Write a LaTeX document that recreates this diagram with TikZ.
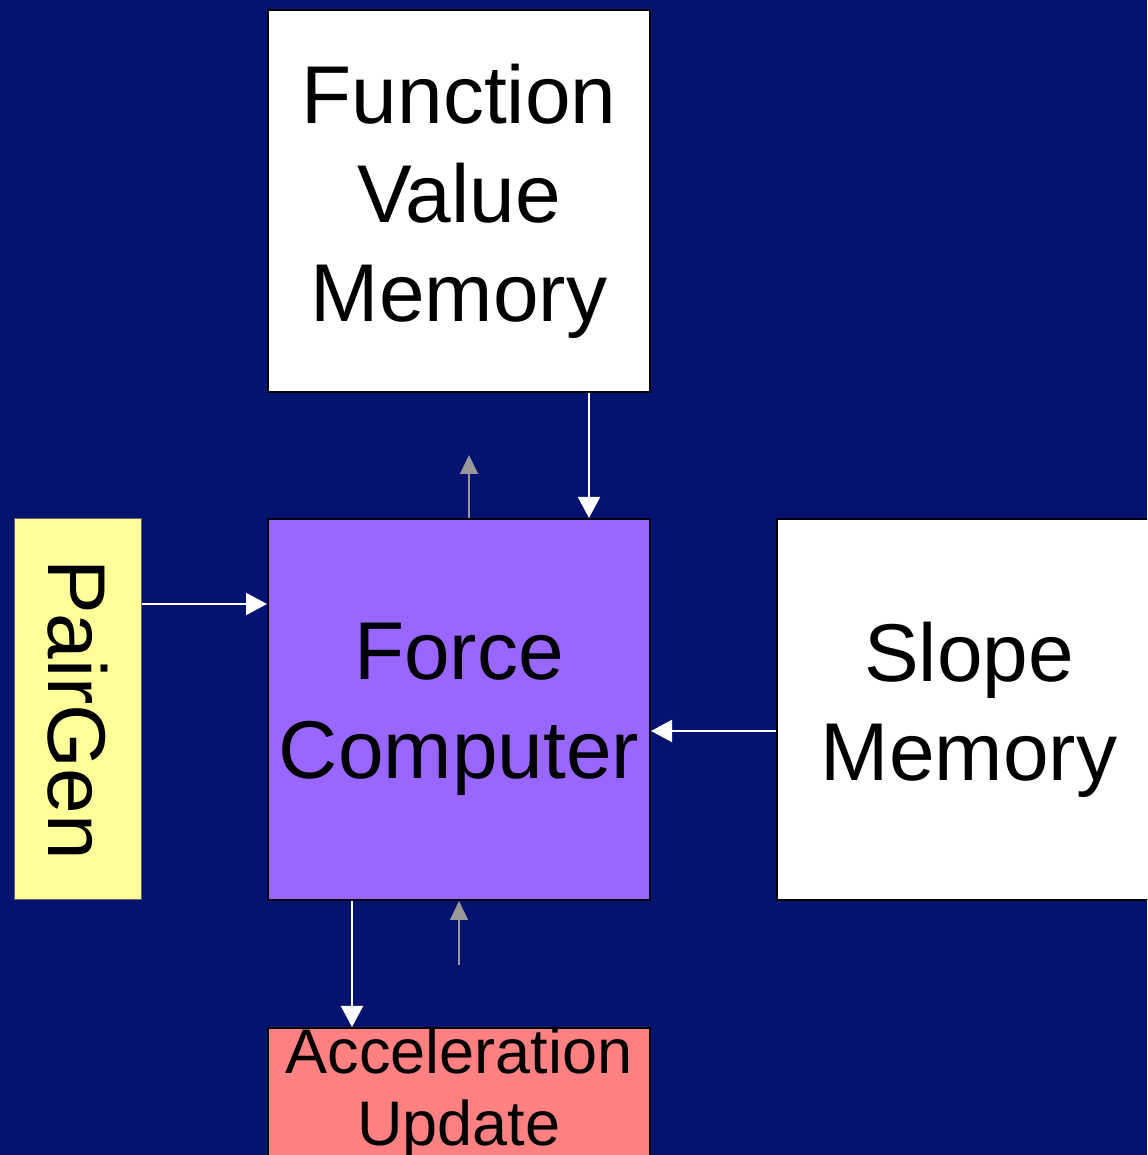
\documentclass[tikz,border=0pt]{standalone}
\usepackage{fontspec}
\setmainfont{Liberation Sans}
\usetikzlibrary{arrows.meta}
\definecolor{slidenavy}{RGB}{4,18,112}
\definecolor{pairyellow}{RGB}{255,255,153}
\definecolor{forcepurple}{RGB}{153,102,255}
\definecolor{accelpink}{RGB}{255,128,128}
\definecolor{ctrlgray}{RGB}{153,153,153}
\tikzset{
	unit/.style={draw=black,line width=1pt,inner sep=0pt,align=center,font=\fontsize{41}{49.5}\selectfont},
	dataflow/.style={white,line width=1pt,-{Triangle[length=10.5pt,width=11pt]}},
	control/.style={ctrlgray,line width=0.6pt,-{Triangle[length=9.5pt,width=9pt]}}
}
\begin{document}
\begin{tikzpicture}[x=0.5pt,y=0.5pt]
			\useasboundingbox (0,0) rectangle (1147,1155);
			\clip (0,0) rectangle (1147,1155);
			\fill[slidenavy] (0,0) rectangle (1147,1155);
			% the four blocks around the force pipeline
			\node[unit,fill=white,minimum width=191pt,minimum height=191pt] (fvm) at (459,954) {Function\\Value\\Memory};
			\node[unit,fill=forcepurple,minimum width=191pt,minimum height=190.5pt] (force) at (459,445.5) {Force\\Computer};
			\node[unit,fill=pairyellow,draw=black!60,line width=0.5pt,minimum width=63.5pt,minimum height=190.5pt] (pairgen) at (77.5,445.5) {\rotatebox{-90}{PairGen}};
			\node[unit,fill=white,minimum width=192pt,minimum height=190.5pt] (slope) at (969,445.5) {Slope\\Memory};
			\node[unit,fill=accelpink,anchor=north,minimum width=191pt,font=\fontsize{31.5}{36}\selectfont] (accel) at (459,128) {Acceleration\\Update};
			% connections
			\coordinate (fvmreq) at (469,700);
			\coordinate (accreq) at (459,190);
			\draw[control] (force.north -| fvmreq) -- (fvmreq);
			\draw[dataflow] ([xshift=65pt]fvm.south) -- ([xshift=65pt]force.north);
			\draw[dataflow] ([yshift=52.75pt]pairgen.east) -- ([yshift=52.75pt]force.west);
			\draw[dataflow] ([yshift=-10.75pt]slope.west) -- ([yshift=-10.75pt]force.east);
			\draw[dataflow] ([xshift=-53.5pt]force.south) -- ([xshift=-53.5pt]accel.north);
			\draw[control] (accreq) -- (force.south);
\end{tikzpicture}
\end{document}
